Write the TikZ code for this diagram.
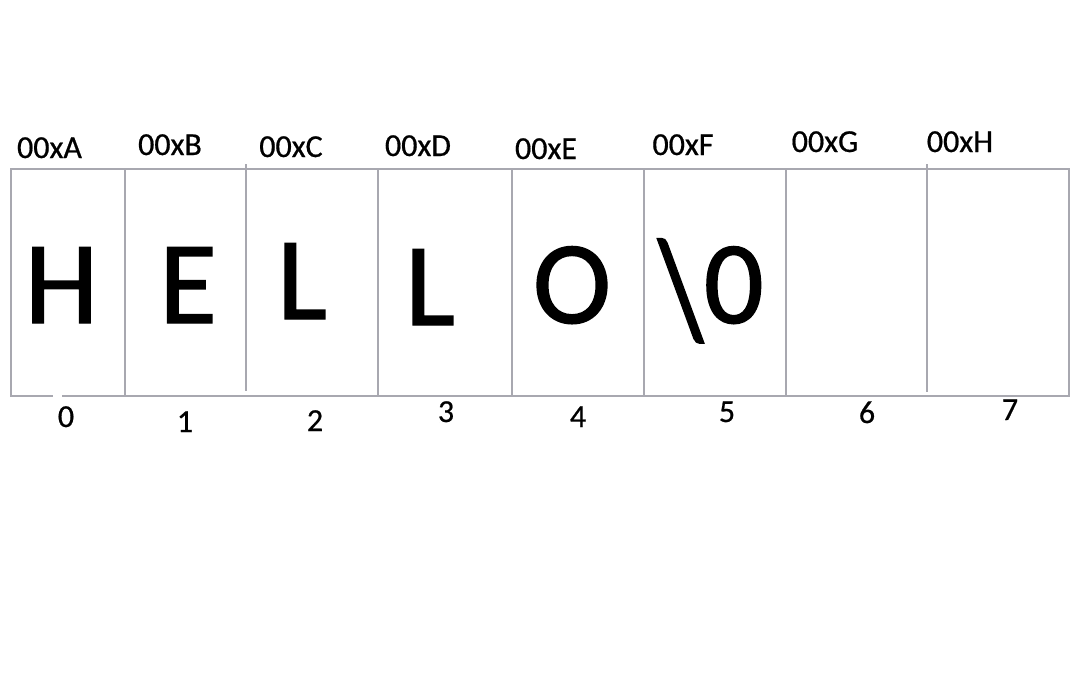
\documentclass[tikz,border=0pt]{standalone}
\usepackage{fontspec}
\usepackage{graphicx}
\setmainfont{Carlito}
\newfontfamily\smallcal[FakeBold=0.6]{Carlito}
\newfontfamily\bigcal[FakeBold=1.2]{Carlito}
\definecolor{cellgray}{HTML}{A8A8B0}
\tikzset{
  cell/.style={draw=cellgray, line width=2pt},
  addr/.style={anchor=base, inner sep=0pt, font=\smallcal\fontsize{32}{38}\selectfont},
  idx/.style={anchor=base, inner sep=0pt, font=\smallcal\fontsize{32}{38}\selectfont},
  chr/.style={anchor=base, inner sep=0pt, font=\bigcal\fontsize{118}{130}\selectfont}
}
\begin{document}
\begin{tikzpicture}[x=1pt,y=-1pt]
\useasboundingbox (0,0) rectangle (1080,675);
% memory block
\draw[cell] (11,169) rectangle (1069,396);
\draw[cell] (125,169) -- (125,396);
\draw[cell] (246,164) -- (246,391);
\draw[cell] (378,169) -- (378,396);
\draw[cell] (512,169) -- (512,396);
\draw[cell] (644,169) -- (644,396);
\draw[cell] (786,169) -- (786,396);
\draw[cell] (927,164) -- (927,392);
\fill[white] (53,395.2) rectangle (62,398);
% addresses
\node[addr] (a0) at (49.5,158) {00xA};
\node[addr] (a1) at (170,155) {00xB};
\node[addr] (a2) at (291,157) {00xC};
\node[addr] (a3) at (418,156) {00xD};
\node[addr] (a4) at (546,159) {00xE};
\node[addr] (a5) at (683,155) {00xF};
\node[addr] (a6) at (825,152) {00xG};
\node[addr] (a7) at (960,152) {00xH};
% characters
\node[chr] (c0) at (61.5,323) {H};
\node[chr] (c1) at (188,323) {E};
\node[chr] (c2) at (302,319) {L};
\node[chr] (c3) at (430,325) {L};
\node[chr] (c4) at (572,323) {O};
\node[chr] (c5) at (711,323) {\raisebox{-14pt}{\scalebox{1}[1.2]{\textbackslash}}0};
% indices
\node[idx] (i0) at (66,427) {0};
\node[idx] (i1) at (185,432) {1};
\node[idx] (i2) at (315,431) {2};
\node[idx] (i3) at (446,422) {3};
\node[idx] (i4) at (578,427) {4};
\node[idx] (i5) at (727,422) {5};
\node[idx] (i6) at (867,423) {6};
\node[idx] (i7) at (1010,420) {7};
\end{tikzpicture}
\end{document}
